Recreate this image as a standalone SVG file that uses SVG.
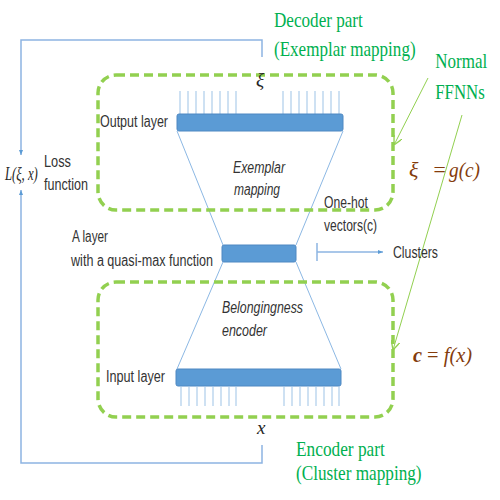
<svg xmlns="http://www.w3.org/2000/svg" width="500" height="500" viewBox="0 0 500 500">
<defs>
<marker id="ab" viewBox="0 0 10 10" refX="10" refY="5" markerWidth="5" markerHeight="5" orient="auto-start-reverse" markerUnits="userSpaceOnUse">
<path d="M0,1 L10,5 L0,9 z" fill="#5B9BD5"/>
</marker>
<marker id="ag" viewBox="0 0 10 10" refX="10" refY="5" markerWidth="9" markerHeight="9" orient="auto" markerUnits="userSpaceOnUse">
<path d="M0,0 L10,5 L0,10" fill="none" stroke="#92D050" stroke-width="1.5"/>
</marker>
</defs>
<style>
.box{fill:none;stroke:#92D050;stroke-width:3.5;stroke-dasharray:9 5}
.bar{fill:#5B9BD5;stroke:#4F88C2;stroke-width:1}
.tick{stroke:#9DC3E6;stroke-width:1}
.tl{stroke:#8CB8E4;stroke-width:1;fill:none}
.loop{stroke:#8DB4E2;stroke-width:1.5;fill:none}
.lbl{font-family:"Liberation Sans",Arial,sans-serif;font-size:16px;fill:#333333}
.it{font-family:"Liberation Sans",Arial,sans-serif;font-size:16px;fill:#333333;font-style:italic}
.grn{font-family:"Liberation Serif","Times New Roman",serif;font-size:21px;fill:#00B050}
.eq{font-family:"Liberation Serif","Times New Roman",serif;font-size:22px;fill:#843C0C;font-style:italic}
.math{font-family:"Liberation Serif","Times New Roman",serif;font-size:19px;fill:#262626;font-style:italic}
</style>
<rect width="500" height="500" fill="#ffffff"/>
<g id="connectors">
<polyline class="loop" points="262,57 262,40 21,40 21,155" marker-end="url(#ab)"/>
<polyline class="loop" points="262,445 262,463 21,463 21,190" marker-end="url(#ab)"/>
<line class="tl" x1="177" y1="131" x2="223" y2="245"/>
<line class="tl" x1="343" y1="131" x2="296" y2="245"/>
<line class="tl" x1="223" y1="262" x2="177" y2="369"/>
<line class="tl" x1="296" y1="262" x2="341" y2="369"/>
<line class="loop" x1="317" y1="243" x2="317" y2="261"/>
<line class="loop" x1="317" y1="252" x2="383" y2="252" marker-end="url(#ab)"/>
<line x1="428" y1="78" x2="394" y2="145" stroke="#92D050" stroke-width="1" marker-end="url(#ag)"/>
<line x1="462" y1="115" x2="393" y2="350" stroke="#92D050" stroke-width="1" marker-end="url(#ag)"/>
</g>
<g id="decoder">
<rect class="box" x="98" y="75" width="295" height="135" rx="18"/>
<g transform="scale(0.8,1)">
<text class="grn" x="342.5" y="27" textLength="111" lengthAdjust="spacingAndGlyphs">Decoder part</text>
<text class="grn" x="342.5" y="56" textLength="177" lengthAdjust="spacingAndGlyphs">(Exemplar mapping)</text>
</g>
</g>
<g id="encoder">
<rect class="box" x="98" y="282" width="295" height="135" rx="18"/>
<g transform="scale(0.8,1)">
<text class="grn" x="370" y="456" textLength="111" lengthAdjust="spacingAndGlyphs">Encoder part</text>
<text class="grn" x="370" y="480" textLength="157" lengthAdjust="spacingAndGlyphs">(Cluster mapping)</text>
</g>
</g>
<g id="output-layer">
<g class="tick">
<line x1="180" y1="91" x2="180" y2="114"/><line x1="188" y1="91" x2="188" y2="114"/><line x1="196" y1="91" x2="196" y2="114"/><line x1="204" y1="91" x2="204" y2="114"/><line x1="212" y1="91" x2="212" y2="114"/><line x1="220" y1="91" x2="220" y2="114"/><line x1="228" y1="91" x2="228" y2="114"/><line x1="236" y1="91" x2="236" y2="114"/>
<line x1="283" y1="91" x2="283" y2="114"/><line x1="291" y1="91" x2="291" y2="114"/><line x1="299" y1="91" x2="299" y2="114"/><line x1="307" y1="91" x2="307" y2="114"/><line x1="315" y1="91" x2="315" y2="114"/><line x1="323" y1="91" x2="323" y2="114"/><line x1="331" y1="91" x2="331" y2="114"/><line x1="339" y1="91" x2="339" y2="114"/>
</g>
<rect class="bar" x="177" y="114" width="166" height="17" rx="2"/>
<text class="lbl" x="100" y="127" textLength="68" lengthAdjust="spacingAndGlyphs">Output layer</text>
<text class="math" x="256" y="86">ξ</text>
</g>
<g id="exemplar-label">
<text class="it" x="233" y="173" textLength="52" lengthAdjust="spacingAndGlyphs">Exemplar</text>
<text class="it" x="234" y="195" textLength="46" lengthAdjust="spacingAndGlyphs">mapping</text>
</g>
<g id="quasi-max-layer">
<rect class="bar" x="222" y="245" width="74" height="17" rx="2"/>
<text class="lbl" x="72" y="242" textLength="36" lengthAdjust="spacingAndGlyphs">A layer</text>
<text class="lbl" x="71" y="266" textLength="142" lengthAdjust="spacingAndGlyphs">with a quasi-max function</text>
<text class="lbl" x="324" y="208" textLength="44" lengthAdjust="spacingAndGlyphs">One-hot</text>
<text class="lbl" x="324" y="231" textLength="53" lengthAdjust="spacingAndGlyphs">vectors(c)</text>
</g>
<g id="clusters">
<text class="lbl" x="393" y="258" textLength="45" lengthAdjust="spacingAndGlyphs">Clusters</text>
</g>
<g id="belongingness-label">
<text class="it" x="222" y="313" textLength="81" lengthAdjust="spacingAndGlyphs">Belongingness</text>
<text class="it" x="222" y="336" textLength="45" lengthAdjust="spacingAndGlyphs">encoder</text>
</g>
<g id="input-layer">
<rect class="bar" x="176" y="369" width="165" height="17" rx="2"/>
<g class="tick">
<line x1="181" y1="386" x2="181" y2="406"/><line x1="189" y1="386" x2="189" y2="406"/><line x1="197" y1="386" x2="197" y2="406"/><line x1="205" y1="386" x2="205" y2="406"/><line x1="213" y1="386" x2="213" y2="406"/><line x1="221" y1="386" x2="221" y2="406"/><line x1="229" y1="386" x2="229" y2="406"/><line x1="236" y1="386" x2="236" y2="406"/>
<line x1="284" y1="386" x2="284" y2="406"/><line x1="292" y1="386" x2="292" y2="406"/><line x1="300" y1="386" x2="300" y2="406"/><line x1="308" y1="386" x2="308" y2="406"/><line x1="316" y1="386" x2="316" y2="406"/><line x1="324" y1="386" x2="324" y2="406"/><line x1="332" y1="386" x2="332" y2="406"/><line x1="339" y1="386" x2="339" y2="406"/>
</g>
<text class="lbl" x="106" y="382" textLength="59" lengthAdjust="spacingAndGlyphs">Input layer</text>
<text class="math" x="257" y="434">x</text>
</g>
<g id="loss">
<g transform="scale(0.7,1)">
<text class="math" x="7" y="180" textLength="47" lengthAdjust="spacingAndGlyphs">L(ξ, x)</text>
</g>
<text class="lbl" x="44" y="167" textLength="27" lengthAdjust="spacingAndGlyphs">Loss</text>
<text class="lbl" x="44" y="190" textLength="44" lengthAdjust="spacingAndGlyphs">function</text>
</g>
<g id="normal-ffnns">
<g transform="scale(0.8,1)">
<text class="grn" x="544" y="68" textLength="65" lengthAdjust="spacingAndGlyphs">Normal</text>
<text class="grn" x="544" y="99" textLength="62" lengthAdjust="spacingAndGlyphs">FFNNs</text>
</g>
</g>
<g id="equations">
<text class="eq" x="409" y="177">ξ</text>
<text class="eq" x="432" y="177" font-style="normal">=</text>
<text class="eq" x="449" y="177" textLength="31" lengthAdjust="spacingAndGlyphs">g(c)</text>
<text class="eq" x="413" y="362" textLength="59" lengthAdjust="spacingAndGlyphs"><tspan font-weight="bold">c</tspan><tspan font-style="normal"> = </tspan>f(x)</text>
</g>
</svg>
